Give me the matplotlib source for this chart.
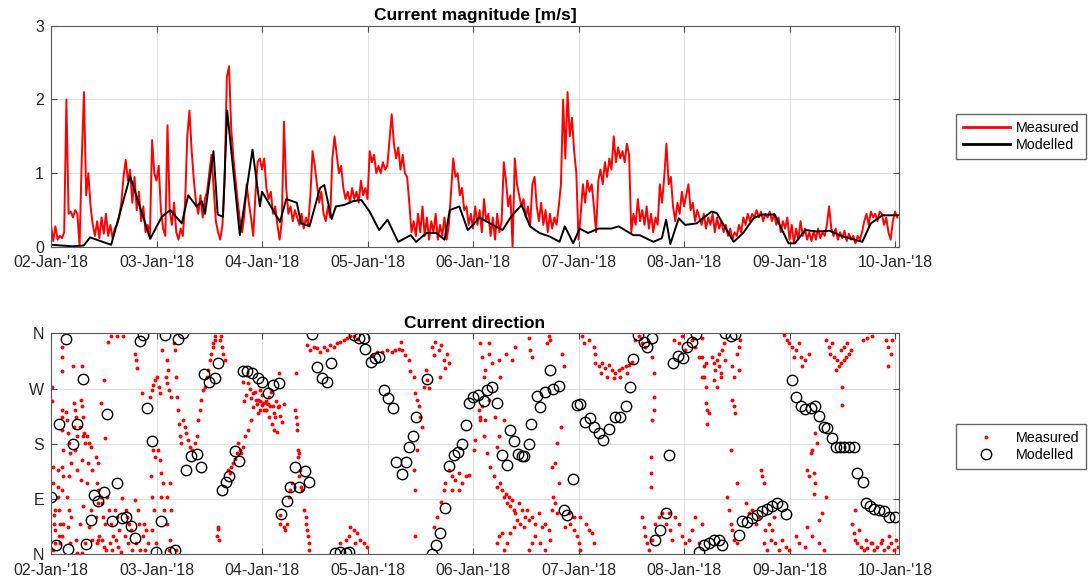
import matplotlib
matplotlib.use('Agg')
from matplotlib import pyplot as plt
import matplotlib.dates as mdates
from matplotlib.lines import Line2D
from datetime import datetime, timedelta

plt.rcParams['font.family'] = ['Liberation Sans', 'DejaVu Sans']

# time origin of all series
start = datetime(2018, 1, 2)

# measured current magnitude [m/s], one value every 30 minutes, per day
meas_step_hours = 0.5
mag_meas_d0 = [0.30, 0.08, 0.28, 0.10, 0.15, 0.12, 0.20, 2.00, 0.45, 0.48, 0.40, 0.50, 0.45, 0.02, 1.20, 2.10,
               0.70, 1.00, 0.55, 0.30, 0.15, 0.35, 0.12, 0.40, 0.18, 0.45, 0.15, 0.30, 0.12, 0.25, 0.30, 0.40,
               0.60, 0.95, 1.18, 0.90, 1.05, 0.60, 0.95, 0.50, 0.75, 0.35, 0.55, 0.20, 0.30, 0.15, 1.45, 1.00]
mag_meas_d1 = [0.90, 1.10, 0.50, 0.25, 0.15, 1.65, 0.50, 0.30, 0.60, 0.20, 0.10, 0.25, 0.15, 0.60, 1.50, 1.85,
               1.30, 0.90, 0.60, 0.45, 0.70, 0.40, 0.65, 0.75, 1.00, 1.25, 0.80, 0.35, 0.20, 0.10, 0.30, 0.90,
               2.30, 2.45, 1.60, 1.20, 0.90, 0.60, 0.35, 0.20, 0.45, 0.85, 0.60, 0.40, 0.15, 0.70, 1.15, 1.20]
mag_meas_d2 = [1.05, 1.20, 0.80, 0.65, 0.75, 0.45, 0.55, 0.30, 0.10, 0.35, 1.70, 0.80, 0.45, 0.55, 0.35, 0.50,
               0.40, 0.30, 0.45, 0.25, 0.40, 0.30, 0.70, 1.30, 1.10, 0.85, 0.60, 0.75, 0.45, 0.35, 0.55, 0.40,
               1.20, 1.50, 1.25, 1.00, 1.10, 0.80, 0.65, 0.75, 0.60, 0.80, 0.65, 0.75, 0.60, 0.90, 0.70, 0.80]
mag_meas_d3 = [0.65, 1.30, 1.15, 1.25, 1.00, 1.10, 1.00, 1.15, 1.05, 1.10, 1.45, 1.80, 1.40, 1.20, 1.35, 1.05,
               1.25, 1.00, 0.95, 0.60, 0.20, 0.35, 0.15, 0.45, 0.20, 0.55, 0.15, 0.40, 0.10, 0.35, 0.20, 0.45,
               0.10, 0.30, 0.15, 0.40, 0.10, 0.30, 0.75, 1.20, 0.95, 1.00, 0.70, 0.80, 0.50, 0.55, 0.30, 0.45]
mag_meas_d4 = [0.25, 0.55, 0.30, 0.50, 0.20, 0.65, 0.35, 0.45, 0.15, 0.40, 0.10, 0.45, 0.20, 0.35, 1.15, 0.90,
               0.55, 0.70, 0.00, 1.20, 0.85, 0.70, 0.55, 0.65, 0.40, 0.55, 0.30, 0.85, 0.95, 0.55, 0.35, 0.60,
               0.30, 0.50, 0.20, 0.45, 0.25, 0.40, 0.30, 0.55, 0.85, 2.00, 1.20, 2.10, 1.50, 1.75, 1.30, 1.00]
mag_meas_d5 = [0.10, 0.45, 0.85, 0.60, 0.90, 0.75, 0.85, 0.55, 0.20, 0.90, 1.05, 0.85, 1.15, 0.95, 1.20, 1.05,
               1.50, 1.15, 1.35, 1.20, 1.30, 1.15, 1.40, 1.25, 0.20, 0.45, 0.30, 0.65, 0.35, 0.50, 0.30, 0.55,
               0.25, 0.45, 0.20, 0.40, 0.30, 0.85, 0.60, 0.95, 1.40, 0.85, 0.95, 0.55, 0.35, 0.60, 0.45, 0.75]
mag_meas_d6 = [0.55, 0.70, 0.85, 0.50, 0.60, 0.35, 0.50, 0.40, 0.30, 0.45, 0.25, 0.40, 0.30, 0.45, 0.20, 0.40,
               0.25, 0.35, 0.20, 0.30, 0.15, 0.25, 0.10, 0.20, 0.15, 0.30, 0.20, 0.40, 0.30, 0.45, 0.35, 0.45,
               0.40, 0.50, 0.40, 0.48, 0.35, 0.45, 0.40, 0.48, 0.35, 0.45, 0.30, 0.40, 0.20, 0.35, 0.25, 0.40]
mag_meas_d7 = [0.10, 0.30, 0.05, 0.25, 0.10, 0.35, 0.15, 0.25, 0.10, 0.20, 0.08, 0.22, 0.10, 0.25, 0.12, 0.20,
               0.15, 0.30, 0.55, 0.25, 0.15, 0.25, 0.10, 0.20, 0.12, 0.22, 0.08, 0.18, 0.10, 0.15, 0.05, 0.15,
               0.10, 0.20, 0.35, 0.45, 0.30, 0.48, 0.40, 0.45, 0.35, 0.48, 0.45, 0.30, 0.40, 0.20, 0.10, 0.35,
               0.48, 0.40]

# modelled current magnitude [m/s] at its turning points (time in days)
mag_mod_days = [0.00, 0.10, 0.20, 0.31, 0.37, 0.57, 0.75, 0.94, 1.05, 1.13, 1.24, 1.30, 1.38, 1.43, 1.46, 1.54,
                1.58, 1.63, 1.67, 1.79, 1.91, 1.98, 2.00, 2.17, 2.23, 2.33, 2.37, 2.45, 2.55, 2.59, 2.66, 2.70,
                2.78, 2.86, 2.94, 3.02, 3.11, 3.19, 3.29, 3.41, 3.46, 3.56, 3.65, 3.73, 3.78, 3.87, 3.95, 4.00,
                4.06, 4.16, 4.28, 4.36, 4.46, 4.54, 4.63, 4.73, 4.82, 4.87, 4.95, 5.01, 5.09, 5.19, 5.31, 5.38,
                5.52, 5.58, 5.71, 5.79, 5.83, 5.87, 5.95, 6.01, 6.12, 6.26, 6.31, 6.47, 6.56, 6.66, 6.74, 6.86,
                6.99, 7.05, 7.15, 7.26, 7.38, 7.51, 7.69, 7.77, 7.88, 8.03]
mag_mod = [0.03, 0.02, 0.01, 0.02, 0.13, 0.03, 0.96, 0.11, 0.41, 0.50, 0.32, 0.70, 0.55, 0.62, 0.45, 1.30,
           0.44, 0.41, 1.85, 0.16, 1.32, 0.55, 0.75, 0.34, 0.65, 0.60, 0.32, 0.28, 0.80, 0.84, 0.38, 0.55,
           0.57, 0.62, 0.64, 0.48, 0.23, 0.37, 0.07, 0.16, 0.07, 0.19, 0.19, 0.10, 0.50, 0.55, 0.23, 0.30,
           0.40, 0.32, 0.23, 0.41, 0.57, 0.28, 0.19, 0.14, 0.07, 0.28, 0.05, 0.25, 0.19, 0.25, 0.25, 0.28,
           0.16, 0.16, 0.07, 0.12, 0.37, 0.04, 0.39, 0.30, 0.32, 0.48, 0.46, 0.07, 0.19, 0.39, 0.44, 0.44,
           0.05, 0.05, 0.23, 0.21, 0.22, 0.14, 0.07, 0.32, 0.43, 0.43]

# measured current direction: (hour since start, degrees from north)
dir_meas_a = [(0.3, 273), (0.3, 249), (0.5, 143), (0.5, 116), (0.7, 64), (0.7, 50), (0.9, 40), (0.9, 18), (0.5, 7),
              (0.9, 72), (1.5, 137), (1.5, 110), (1.7, 94), (1.9, 72), (2.0, 50), (1.9, 29), (2.0, 18), (2.4, 338),
              (2.4, 322), (2.6, 298), (2.6, 235), (2.4, 224), (2.6, 203), (2.8, 170), (2.6, 143), (2.8, 127),
              (2.6, 105), (2.8, 50), (2.4, 29), (3.4, 232), (3.6, 219), (3.8, 197), (4.0, 181), (4.3, 165),
              (4.5, 148), (4.0, 127), (3.6, 94), (4.1, 72), (4.5, 61), (3.8, 45), (4.3, 18), (5.0, 306), (5.3, 246),
              (5.5, 235), (5.7, 224), (5.3, 208), (5.9, 192), (5.5, 170), (6.0, 137), (5.7, 23), (6.0, 2), (7.0, 306),
              (6.8, 251), (7.0, 241), (7.3, 224), (6.6, 208), (7.5, 197), (7.3, 192), (7.7, 181), (7.0, 154),
              (6.8, 121), (7.3, 78), (6.6, 50), (7.7, 18), (7.0, 2), (8.3, 192), (8.7, 181), (9.0, 175), (8.5, 148),
              (9.4, 137), (8.1, 116), (9.0, 72), (8.7, 45), (9.4, 23), (10.2, 159), (10.6, 148), (10.4, 116),
              (10.8, 105), (10.6, 83), (10.2, 61), (10.9, 29), (10.4, 18), (10.8, 23), (11.3, 94), (11.7, 83),
              (11.9, 61), (12.3, 50), (11.5, 23), (12.1, 12), (12.5, 7), (11.3, 246), (12.0, 284), (12.3, 189),
              (13.0, 346), (13.6, 355), (12.8, 94), (13.2, 72), (13.6, 50), (14.0, 29), (13.4, 18), (13.8, 7),
              (14.5, 72), (15.0, 61), (15.5, 40), (14.7, 23), (15.3, 12), (15.9, 4), (15.1, 355), (16.4, 356),
              (17.0, 72), (17.4, 61), (17.8, 50), (18.2, 40), (16.8, 29), (17.6, 18), (18.4, 7), (16.2, 91),
              (19.0, 327), (19.4, 317), (19.6, 303), (19.2, 89), (19.8, 72), (20.0, 50), (19.4, 18), (20.2, 7),
              (20.8, 262), (21.2, 50), (21.6, 40), (21.0, 29), (22.0, 18), (21.4, 7), (22.5, 257), (22.9, 268),
              (23.2, 276), (23.6, 284), (22.7, 127), (23.0, 94), (23.4, 72), (22.9, 40), (23.8, 18), (23.2, 170),
              (23.6, 159), (24.2, 289), (24.6, 273), (24.8, 262), (24.4, 170), (24.8, 154), (25.1, 132),
              (25.5, 116), (25.1, 94), (25.7, 72), (25.3, 333), (26.1, 289), (26.5, 279), (26.9, 268), (27.2, 257),
              (26.3, 317), (26.7, 300), (27.0, 116), (26.3, 94), (27.4, 72), (26.5, 50), (27.0, 23), (26.9, 7),
              (28.0, 344), (28.2, 333), (28.5, 289), (28.7, 257), (28.9, 235), (29.1, 213), (29.3, 192),
              (29.5, 181), (28.5, 7), (30.0, 219), (30.4, 208), (30.8, 197), (31.2, 186), (31.6, 175), (32.0, 170),
              (32.7, 181), (33.1, 192), (33.5, 219), (33.8, 235), (34.2, 251), (34.6, 268), (35.0, 273),
              (35.4, 289), (35.7, 300), (36.1, 317), (36.5, 327), (36.9, 338), (37.2, 349), (37.4, 355),
              (36.8, 344), (38.0, 42), (37.8, 29), (38.2, 23), (38.4, 349), (38.8, 338), (39.1, 327), (39.5, 317),
              (38.6, 355), (38.0, 45), (40.3, 137), (40.7, 132), (41.0, 143), (41.4, 148), (41.8, 156), (42.2, 165),
              (42.5, 181), (42.9, 170), (43.3, 165), (43.7, 175), (44.1, 192), (44.8, 203), (45.5, 219),
              (44.8, 279), (45.9, 262), (46.7, 251), (47.5, 268), (48.2, 246), (49.0, 235), (49.7, 257),
              (50.5, 241), (52.0, 64), (45.2, 270), (45.6, 255), (46.0, 240), (46.4, 265), (46.8, 245), (47.2, 230),
              (47.6, 250), (48.0, 260), (48.4, 235), (48.8, 250), (44.4, 260), (44.0, 250), (43.6, 280),
              (49.4, 245), (50.0, 265), (50.8, 230), (51.2, 250), (51.6, 240), (52.2, 225), (52.6, 215), (53.0, 245)]
dir_meas_b = [(47.2, 251), (48.0, 243), (48.8, 235), (49.5, 224), (50.3, 213), (51.0, 224), (51.8, 241), (50.7, 203),
              (51.4, 200), (48.8, 246), (49.9, 241), (47.6, 235), (51.8, 295), (52.2, 50), (52.9, 45), (53.3, 40),
              (53.7, 50), (54.1, 94), (54.4, 105), (54.8, 116), (55.6, 235), (55.8, 224), (56.0, 213), (56.0, 203),
              (56.3, 170), (56.5, 165), (56.3, 159), (56.7, 137), (56.5, 127), (56.9, 110), (57.1, 105),
              (55.8, 295), (57.5, 72), (57.9, 61), (58.0, 50), (58.2, 40), (58.4, 29), (58.6, 18), (58.8, 7),
              (58.2, 341), (59.0, 333), (59.8, 338), (60.5, 336), (61.3, 330), (62.0, 338), (62.8, 333),
              (63.5, 341), (64.3, 338), (65.1, 344), (65.8, 346), (66.6, 349), (67.3, 352), (68.1, 355),
              (68.9, 356), (69.6, 351), (65.8, 18), (67.0, 23), (67.7, 29), (68.1, 45), (68.9, 40), (69.6, 34),
              (70.4, 23), (71.1, 18), (71.9, 12), (69.2, 18), (73.0, 325), (74.2, 329), (75.3, 330), (76.4, 332),
              (77.6, 330), (78.3, 333), (79.1, 334), (79.8, 332), (80.6, 325), (81.4, 317), (81.7, 298),
              (79.7, 346), (82.5, 289), (82.9, 262), (83.3, 251), (83.6, 241), (84.0, 224), (84.4, 208),
              (84.8, 273), (85.2, 300), (85.5, 284), (85.9, 271), (82.5, 137), (82.9, 105), (82.9, 29), (83.3, 170),
              (86.7, 338), (87.4, 346), (88.2, 333), (88.8, 341), (89.3, 317), (89.7, 303), (90.1, 327),
              (90.5, 311), (87.1, 325), (88.6, 289), (87.1, 45), (87.8, 61), (88.8, 86), (89.3, 105), (89.7, 116),
              (90.5, 137), (91.2, 127), (92.0, 121), (92.7, 132), (93.5, 116), (94.3, 127), (95.0, 129),
              (92.7, 105), (91.2, 105), (96.2, 170), (96.5, 186), (97.3, 235), (97.7, 224), (98.0, 241),
              (98.8, 219), (99.6, 251), (99.6, 344)]
dir_meas_c = [(97.7, 344), (98.0, 322), (98.4, 289), (98.8, 300), (99.6, 327), (100.3, 311), (101.1, 224),
              (101.5, 175), (101.8, 192), (97.7, 219), (98.4, 192), (99.2, 165), (99.9, 143), (100.7, 127),
              (101.5, 110), (102.2, 116), (102.6, 105), (103.0, 94), (103.4, 99), (103.7, 83), (104.1, 94),
              (104.5, 78), (104.9, 89), (105.3, 72), (105.6, 67), (106.4, 83), (107.1, 72), (107.9, 61),
              (106.8, 50), (107.5, 45), (106.0, 56), (105.3, 45), (104.5, 34), (103.7, 18), (103.0, 7), (102.6, 34),
              (101.8, 29), (101.5, 18), (101.8, 317), (103.4, 327), (104.9, 317), (105.6, 338), (102.2, 289),
              (103.0, 219), (108.3, 72), (108.7, 56), (109.4, 61), (110.2, 50), (110.9, 67), (111.7, 45),
              (112.4, 50), (113.2, 40), (110.2, 29), (111.3, 18), (109.4, 18), (108.7, 7), (112.4, 7), (113.6, 23),
              (114.0, 72), (114.7, 83), (108.7, 352), (109.0, 333), (109.4, 322), (112.8, 344), (113.2, 355),
              (113.6, 349), (116.2, 327), (116.6, 306), (115.9, 208), (115.1, 181), (114.7, 148), (114.0, 143),
              (115.5, 116), (114.3, 94), (115.1, 67), (117.0, 45), (117.8, 67), (118.1, 50), (118.9, 61),
              (120.0, 18), (120.4, 7), (119.7, 29), (118.9, 40), (120.4, 61), (121.6, 50), (122.3, 40), (123.1, 34),
              (123.5, 18), (120.8, 355), (121.2, 344), (122.3, 349), (123.5, 338), (123.8, 327), (123.8, 311),
              (124.6, 306), (125.4, 311), (126.1, 303), (126.9, 308), (127.6, 300), (128.4, 295), (129.2, 300),
              (129.9, 303), (130.7, 306), (131.4, 308), (132.2, 314), (125.0, 295), (126.5, 289), (128.0, 287),
              (129.5, 289), (131.0, 295), (132.9, 349), (133.7, 355), (134.4, 344), (135.2, 338), (136.0, 346),
              (136.7, 322), (137.1, 295), (137.1, 257), (137.1, 235), (136.7, 219), (136.4, 159), (136.4, 132),
              (136.4, 110), (134.4, 61), (134.8, 45), (135.2, 29), (135.6, 18), (136.0, 7), (136.7, 23),
              (137.5, 50), (138.2, 61), (139.0, 67), (139.8, 50), (140.5, 67), (140.9, 40), (141.3, 23), (142.0, 61),
              (142.8, 50), (143.5, 29), (144.3, 18), (145.1, 23), (145.8, 40), (146.6, 61), (147.3, 18),
              (148.1, 50), (141.7, 349), (142.8, 344), (143.5, 355), (144.3, 333), (145.8, 349), (146.6, 338),
              (147.3, 322), (148.1, 352), (148.9, 311), (148.5, 289)]
dir_meas_d = [(148.1, 322), (148.5, 306), (148.9, 273), (148.9, 246), (149.2, 235), (149.2, 213), (149.6, 230),
              (148.1, 289), (150.4, 322), (150.8, 311), (151.1, 300), (151.5, 317), (151.9, 306), (152.3, 295),
              (152.7, 333), (153.0, 344), (153.4, 317), (151.9, 327), (152.3, 289), (151.5, 273), (150.8, 284),
              (154.9, 306), (155.3, 289), (154.9, 251), (155.3, 241), (155.7, 230), (156.1, 327), (156.5, 338),
              (156.8, 349), (156.5, 300), (154.7, 170), (153.8, 94), (154.2, 72), (154.6, 50), (154.9, 40),
              (155.3, 23), (156.1, 18), (156.1, 116), (158.0, 83), (158.7, 67), (159.5, 72), (160.3, 50),
              (161.0, 61), (161.8, 127), (162.2, 116), (161.4, 137), (162.5, 40), (163.3, 50), (162.2, 18),
              (162.9, 7), (163.7, 23), (164.1, 40), (164.8, 18), (165.6, 7), (166.3, 23), (167.1, 12), (167.9, 7),
              (164.5, 61), (166.7, 357), (167.5, 349), (168.6, 338), (169.4, 333), (170.1, 344), (170.5, 322),
              (170.9, 306), (171.6, 317), (172.4, 327), (167.9, 344), (169.0, 322), (172.0, 137), (172.4, 127),
              (173.5, 132), (173.9, 116), (172.8, 165), (173.2, 170), (173.9, 197), (174.3, 181), (173.5, 99),
              (174.7, 56), (175.4, 67), (176.2, 94), (172.0, 45), (173.2, 29), (174.7, 18), (175.8, 7), (171.6, 12),
              (170.1, 18), (169.4, 29), (176.2, 349), (177.0, 338), (177.3, 327), (178.1, 322), (178.9, 317),
              (179.2, 306), (179.6, 311), (180.4, 317), (180.8, 322), (181.5, 327), (178.5, 300), (179.6, 333),
              (180.4, 338), (181.1, 344), (181.9, 333), (177.7, 344), (180.0, 273), (180.0, 243), (182.3, 50),
              (182.7, 34), (183.0, 23), (183.4, 18), (184.2, 12), (184.9, 7), (185.7, 10), (186.5, 18), (187.2, 7),
              (188.0, 12), (188.7, 18), (189.5, 7), (190.3, 12), (191.0, 18), (191.8, 7), (192.2, 23), (183.0, 72),
              (183.8, 40), (185.3, 23), (186.8, 18), (189.1, 23), (190.6, 29), (192.6, 12), (184.6, 349),
              (185.7, 352), (186.8, 355), (189.9, 349), (190.3, 338), (191.0, 327), (191.4, 349), (190.3, 306)]

# modelled current direction: (hour since start, degrees from north)
dir_mod = [(0.0, 94), (1.2, 15), (1.9, 213), (3.4, 351), (3.8, 8), (5.0, 180), (6.0, 213), (7.2, 286), (7.9, 17),
           (9.1, 56), (9.8, 97), (10.6, 87), (12.0, 102), (12.7, 228), (13.9, 54), (14.9, 116), (16.1, 59),
           (17.0, 60), (18.2, 46), (19.0, 27), (20.2, 348), (20.9, 357), (21.8, 239), (23.0, 185), (23.8, 3),
           (25.0, 55), (25.9, 358), (27.1, 4), (28.1, 7), (29.0, 350), (30.0, 360), (30.7, 137), (31.9, 160),
           (33.1, 163), (34.1, 143), (34.8, 293), (36.0, 281), (37.2, 287), (37.9, 312), (38.9, 104), (39.8, 118),
           (40.6, 127), (41.8, 168), (42.7, 152), (43.7, 299), (44.6, 298), (45.8, 296), (47.0, 287), (48.0, 281),
           (49.4, 262), (50.6, 276), (51.8, 279), (52.3, 66), (53.6, 87), (54.4, 110), (55.5, 142), (56.4, 109),
           (57.8, 136), (58.6, 118), (59.3, 359), (60.5, 305), (61.7, 287), (62.8, 281), (63.6, 311), (64.7, 2),
           (65.8, 3), (67.0, 2), (67.7, 3), (68.9, 358), (70.0, 352), (71.1, 352), (71.5, 334), (72.7, 314),
           (73.8, 319), (74.7, 322), (75.7, 268), (76.7, 254), (77.8, 238), (78.5, 151), (79.9, 130), (80.8, 151),
           (81.5, 174), (82.4, 192), (83.1, 223), (85.6, 285), (86.7, 1), (87.6, 15), (88.6, 35), (89.7, 75),
           (90.6, 144), (91.6, 162), (92.6, 167), (93.6, 180), (94.4, 211), (95.1, 246), (95.9, 256), (97.2, 260),
           (98.4, 249), (99.1, 268), (100.3, 273), (101.5, 246), (102.6, 162), (103.7, 146), (104.5, 203),
           (105.3, 184), (106.2, 163), (107.1, 160), (107.7, 160), (108.7, 180), (109.3, 213), (110.6, 258),
           (111.3, 240), (112.4, 265), (113.6, 301), (114.3, 269), (115.5, 274), (116.6, 72), (117.4, 64),
           (118.7, 122), (119.7, 243), (120.4, 245), (121.4, 216), (122.7, 222), (123.5, 208), (124.6, 197),
           (125.5, 187), (127.0, 204), (128.2, 224), (129.5, 224), (130.7, 242), (131.6, 273), (132.4, 318),
           (133.5, 357), (134.8, 346), (135.6, 338), (136.6, 352), (137.3, 24), (138.6, 40), (139.8, 68),
           (140.5, 162), (141.4, 312), (142.6, 323), (143.7, 319), (144.7, 338), (145.7, 346), (146.7, 359),
           (147.3, 4), (148.5, 15), (149.6, 18), (150.8, 24), (151.9, 23), (152.7, 15), (153.4, 360), (154.6, 355),
           (155.7, 359), (156.5, 31), (157.2, 55), (158.4, 53), (159.5, 59), (160.6, 64), (161.8, 70), (162.9, 73),
           (164.1, 78), (165.2, 83), (166.2, 78), (167.2, 66), (168.5, 284), (169.4, 257), (170.5, 241),
           (171.6, 236), (172.8, 238), (173.9, 241), (174.8, 225), (175.8, 208), (176.6, 205), (177.7, 189),
           (178.5, 175), (179.4, 174), (180.4, 175), (181.5, 174), (182.7, 175), (183.4, 132), (184.6, 118),
           (185.3, 84), (186.2, 78), (187.2, 73), (188.4, 72), (189.5, 70), (190.6, 61), (192.0, 60)]

dir_ticks = [0, 90, 180, 270, 360]
dir_labels = ['N', 'E', 'S', 'W', 'N']


def hours_to_dates(hours):
    return [start + timedelta(hours=h) for h in hours]


mag_meas = mag_meas_d0 + mag_meas_d1 + mag_meas_d2 + mag_meas_d3 + mag_meas_d4 + mag_meas_d5 + mag_meas_d6 + mag_meas_d7
t_meas = hours_to_dates([i * meas_step_hours for i in range(len(mag_meas))])
t_mod = hours_to_dates([d * 24 for d in mag_mod_days])

dir_meas = dir_meas_a + dir_meas_b + dir_meas_c + dir_meas_d
t_dir_meas = hours_to_dates([p[0] for p in dir_meas])
t_dir_mod = hours_to_dates([p[0] for p in dir_mod])

fig = plt.figure(figsize=(10.89, 5.86), dpi=100)
W, H = 1089, 586
ax1 = fig.add_axes([51 / W, 1 - 247 / H, 848 / W, (247 - 25.7) / H])
ax2 = fig.add_axes([51 / W, 1 - 554.3 / H, 848 / W, (554.3 - 333.3) / H])

ax1.plot(t_meas, mag_meas, color='red', lw=1.4)
ax1.plot(t_mod, mag_mod, color='black', lw=1.4)
ax1.set_ylim(0, 3)
ax1.set_yticks([0, 1, 2, 3])
ax1.set_title('Current magnitude [m/s]', fontsize=12.5, fontweight='bold', pad=4)

ax2.plot(t_dir_meas, [p[1] for p in dir_meas], 'o', color='red', ms=2.8, mec='none')
ax2.plot(t_dir_mod, [p[1] for p in dir_mod], 'o', mfc='none', mec='black', ms=7.5, mew=1.0)
ax2.set_ylim(0, 360)
ax2.set_yticks(dir_ticks)
ax2.set_yticklabels(dir_labels)
ax2.set_title('Current direction', fontsize=12.5, fontweight='bold', pad=4)

for ax in (ax1, ax2):
    ax.set_xlim(start, start + timedelta(days=8, hours=0.9))
    ax.xaxis.set_major_locator(mdates.DayLocator())
    ax.xaxis.set_major_formatter(mdates.DateFormatter("%d-%b-'%y"))
    ax.grid(True, color='0.87', lw=0.7)
    ax.set_axisbelow(True)
    ax.tick_params(direction='in', length=4, top=True, right=True, colors='0.3',
                   labelcolor='#262626', labelsize=11.5, pad=6)
    ax.tick_params(axis='y', pad=5)
    for sp in ax.spines.values():
        sp.set_color('0.35')
        sp.set_linewidth(0.8)

leg1 = [Line2D([], [], color='red', lw=2), Line2D([], [], color='black', lw=2)]
ax1.legend(leg1, ['Measured', 'Modelled'], loc='center', bbox_to_anchor=(1021 / W, 1 - 136.5 / H),
           bbox_transform=fig.transFigure, fontsize=10.3, handlelength=3.3, handletextpad=0.4,
           fancybox=False, edgecolor='0.4', framealpha=1, borderpad=0.45, labelspacing=0.25)

leg2 = [Line2D([], [], ls='none', marker='o', color='red', ms=2.8, mec='none'),
        Line2D([], [], ls='none', marker='o', mfc='none', mec='black', ms=7.5, mew=1.0)]
ax2.legend(leg2, ['Measured', 'Modelled'], loc='center', bbox_to_anchor=(1021 / W, 1 - 446.5 / H),
           bbox_transform=fig.transFigure, fontsize=10.3, handlelength=3.3, handletextpad=0.4,
           fancybox=False, edgecolor='0.4', framealpha=1, borderpad=0.45, labelspacing=0.25)

fig.savefig('out.png', dpi=100)
